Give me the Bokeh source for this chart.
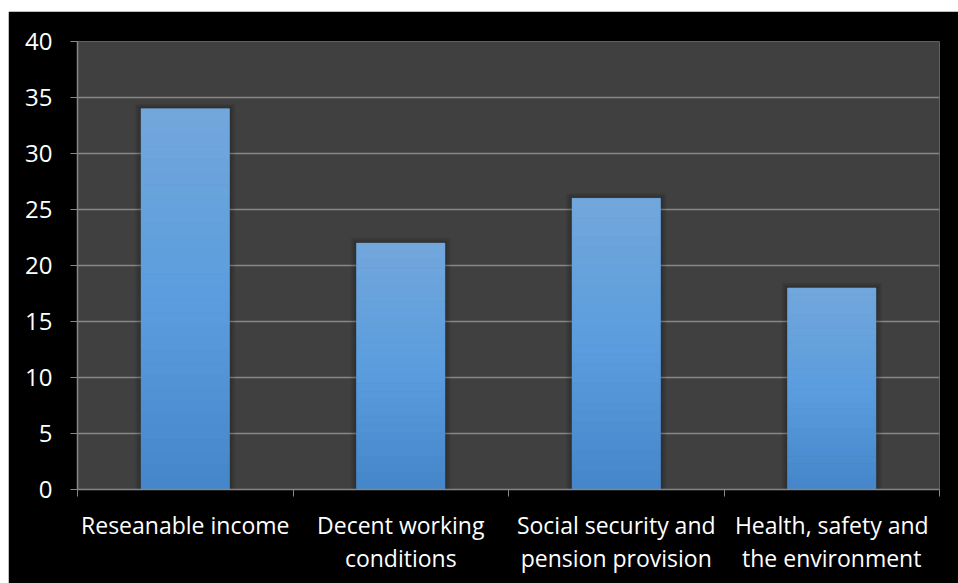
from bokeh.plotting import figure
from bokeh.models import FixedTicker, Range1d, ColumnDataSource, Spacer
from bokeh.layouts import column, row
from bokeh.embed import file_html
from bokeh.resources import INLINE

categories = ["Reseanable income", "Decent working\nconditions",
              "Social security and\npension provision", "Health, safety and\nthe environment"]
values = [34, 22, 26, 18]
y_ticks = [0, 5, 10, 15, 20, 25, 30, 35, 40]

FONT = "Open Sans"
BAR_W = 0.41

p = figure(width=950, height=572, output_backend="svg", toolbar_location=None,
           x_range=Range1d(0, len(categories)), y_range=Range1d(0, 40),
           background_fill_color="#404040", border_fill_color="#000000",
           min_border_left=69, min_border_right=19, min_border_top=30, min_border_bottom=94)
p.outline_line_color = None

xs = [i + 0.5 for i in range(len(categories))]

# soft shadow
for k in [6, 5, 4, 3, 2, 1]:
    p.vbar(x=xs, top=[v + 0.08 * k for v in values], bottom=0, width=BAR_W + 0.01 * k,
           fill_color="#000000", fill_alpha=0.04, line_color=None)

p.vbar(x=xs, top=values, bottom=0, width=BAR_W, fill_color="#5b9bd5", line_color=None)

# vertical gradient overlay
def lerp(c1, c2, t):
    return tuple(int(round(a + (b - a) * t)) for a, b in zip(c1, c2))

stops = [(68, 134, 201), (91, 157, 222), (114, 167, 219)]
def grad(t):
    if t <= 0.5:
        return lerp(stops[0], stops[1], t / 0.5)
    return lerp(stops[1], stops[2], (t - 0.5) / 0.5)

N = 30
gx, gb, gt, gc = [], [], [], []
for x, v in zip(xs, values):
    for i in range(N):
        gx.append(x)
        gb.append(v * i / N)
        gt.append(v * (i + 1) / N)
        r, g, b = grad((i + 0.5) / N)
        gc.append("#%02x%02x%02x" % (r, g, b))
src = ColumnDataSource(dict(x=gx, bottom=gb, top=gt, color=gc))
p.vbar(x="x", bottom="bottom", top="top", width=BAR_W, fill_color="color",
       line_color="color", line_width=0.5, source=src)

# axes
p.xaxis.ticker = FixedTicker(ticks=xs, minor_ticks=list(range(len(categories) + 1)))
p.xaxis.major_label_overrides = {x: c for x, c in zip(xs, categories)}
p.xaxis.major_tick_out = 0
p.xaxis.major_tick_in = 0
p.xaxis.minor_tick_out = 7
p.xaxis.minor_tick_in = 0
p.xaxis.minor_tick_line_color = "#868686"
p.xaxis.axis_line_color = "#868686"
p.xaxis.axis_line_width = 1.5
p.xaxis.major_label_text_color = "#ffffff"
p.xaxis.major_label_text_font = FONT
p.xaxis.major_label_text_font_size = "23px"
p.xaxis.major_label_standoff = 12
p.xaxis.major_label_text_line_height = 1.05

p.yaxis.ticker = FixedTicker(ticks=y_ticks)
p.yaxis.minor_tick_line_color = None
p.yaxis.major_tick_out = 7
p.yaxis.major_tick_in = 0
p.yaxis.major_tick_line_color = "#868686"
p.yaxis.axis_line_color = "#868686"
p.yaxis.axis_line_width = 1.5
p.yaxis.major_label_text_color = "#ffffff"
p.yaxis.major_label_text_font = FONT
p.yaxis.major_label_text_font_size = "24px"
p.yaxis.major_label_standoff = 18

p.xgrid.grid_line_color = None
p.ygrid.ticker = FixedTicker(ticks=y_ticks)
p.ygrid.grid_line_color = "#878787"
p.ygrid.grid_line_width = 1.5

layout = column(Spacer(width=958, height=11),
                row(Spacer(width=8, height=572), p))

open("out.html", "w").write(file_html(layout, INLINE))
